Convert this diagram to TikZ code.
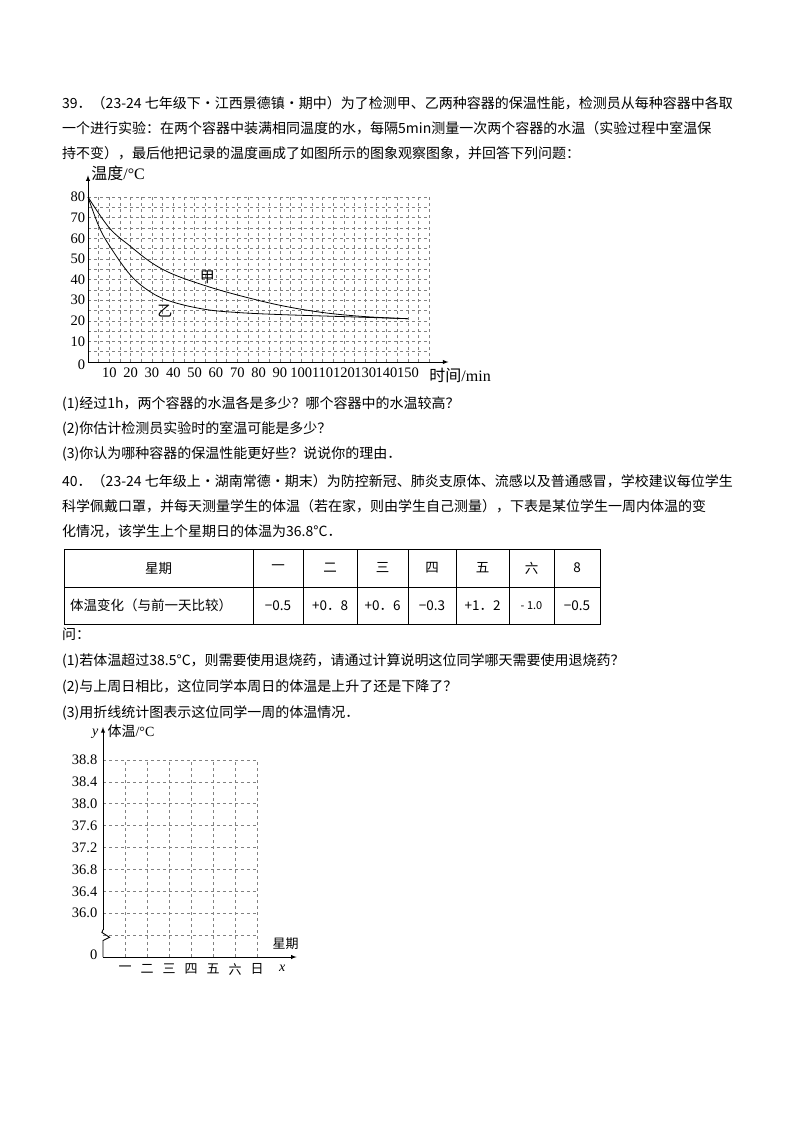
\documentclass[tikz,border=0pt]{standalone}
\usepackage{fontspec}
\setmainfont{Liberation Serif}
\newfontfamily\cjk{Noto Sans CJK SC}
\begin{document}
\begin{tikzpicture}[x=1pt,y=-1pt,
  txt/.style={anchor=base west,inner sep=0pt,font=\cjk\fontsize{14}{16}\selectfont},
  cell/.style={inner sep=0pt,font=\cjk\fontsize{13.5}{16}\selectfont},
  gridl/.style={gray,dashed,line width=0.5pt},
  ax/.style={line width=0.9pt,-latex},
  lab/.style={inner sep=0pt,font=\fontsize{14.5}{15}\selectfont}]
\useasboundingbox[fill=white] (0,0) rectangle (800,1132);
% problem 39 text
\node[txt] (l1) at (62,108) {39．（23-24 七年级下·江西景德镇·期中）为了检测甲、乙两种容器的保温性能，检测员从每种容器中各取};
\node[txt] (l2) at (62,133) {一个进行实验：在两个容器中装满相同温度的水，每隔5min测量一次两个容器的水温（实验过程中室温保};
\node[txt] (l3) at (62,158) {持不变），最后他把记录的温度画成了如图所示的图象观察图象，并回答下列问题：};
% graph 1
\begin{scope}[shift={(88pt,-362pt)},x=2.133pt,y=2.0625pt]
  \foreach \t in {5,10,...,160} \draw[gridl] (\t,0) -- (\t,80);
  \foreach \T in {5,10,...,80} \draw[gridl] (0,\T) -- (160,\T);
  \coordinate (o1) at (0,0);
  \coordinate (ytop1) at (0,90.5);
  \coordinate (xend1) at (169,0);
  \draw[ax] (o1) -- (ytop1);
  \draw[ax] (o1) -- (xend1);
  \foreach \T in {10,20,...,80} \node[lab,anchor=east] (y\T) at (-1.2,\T) {\T};
  \node[lab,anchor=east] (y0) at (-1.2,-1.5) {0};
  \foreach \t in {10,20,...,150} \node[lab,anchor=north] (x\t) at (\t,-2.5) {\t};
  \node[lab,anchor=west,font=\fontsize{16}{16}\selectfont] (ylab1) at (1.5,91.5) {{\cjk 温度}/°C};
  \node[lab,anchor=west,font=\fontsize{16}{16}\selectfont] (xlab1) at (160,-6.5) {{\cjk 时间}/min};
  \draw[line width=0.8pt] plot[smooth,tension=0.6] coordinates {(0,80) (10,65) (20,56) (30,48) (40,42.5) (55,37) (70,32.5) (90,27.5) (110,24) (130,22) (150,21)};
  \draw[line width=0.8pt] plot[smooth,tension=0.6] coordinates {(0,80) (5,66) (10,56.5) (20,42) (30,33.5) (40,29) (55,25.5) (70,24) (90,23) (120,22) (150,21)};
  \node[lab,font=\cjk\fontsize{15}{15}\selectfont] (jia) at (56,41) {甲};
  \node[lab,font=\cjk\fontsize{15}{15}\selectfont] (yi) at (36,24.5) {乙};
\end{scope}
\node[txt] (q1) at (62,408) {(1)经过1h，两个容器的水温各是多少？哪个容器中的水温较高？};
\node[txt] (q2) at (62,433) {(2)你估计检测员实验时的室温可能是多少？};
\node[txt] (q3) at (62,458) {(3)你认为哪种容器的保温性能更好些？说说你的理由．};
% problem 40
\node[txt] (m1) at (62,486) {40．（23-24 七年级上·湖南常德·期末）为防控新冠、肺炎支原体、流感以及普通感冒，学校建议每位学生};
\node[txt] (m2) at (62,511) {科学佩戴口罩，并每天测量学生的体温（若在家，则由学生自己测量），下表是某位学生一周内体温的变};
\node[txt] (m3) at (62,536) {化情况，该学生上个星期日的体温为36.8°C．};
% table
\draw[line width=0.9pt] (64,549) rectangle (600,624);
\draw[line width=0.9pt] (64,587) -- (600,587);
\foreach \c in {253,303,357,408,456,509,554} \draw[line width=0.9pt] (\c,549) -- (\c,624);
\node[cell] (h0) at (158.5,568) {星期};
\node[cell] (h1) at (278,568) {一};
\node[cell] (h2) at (330,568) {二};
\node[cell] (h3) at (382.5,568) {三};
\node[cell] (h4) at (432,568) {四};
\node[cell] (h5) at (482.5,568) {五};
\node[cell] (h6) at (531.5,568) {六};
\node[cell] (h7) at (577,568) {8};
\node[cell,anchor=west] (r0) at (70,605.5) {体温变化（与前一天比较）};
\node[cell] (r1) at (278,605.5) {−0.5};
\node[cell] (r2) at (330,605.5) {+0．8};
\node[cell] (r3) at (382.5,605.5) {+0．6};
\node[cell] (r4) at (432,605.5) {−0.3};
\node[cell] (r5) at (482.5,605.5) {+1．2};
\node[cell] (r6) at (531.5,605.5) {\fontsize{11}{12}\selectfont - 1.0};
\node[cell] (r7) at (577,605.5) {−0.5};
\node[txt] (w0) at (62,639) {问：};
\node[txt] (p1) at (62,665) {(1)若体温超过38.5°C，则需要使用退烧药，请通过计算说明这位同学哪天需要使用退烧药？};
\node[txt] (p2) at (62,691) {(2)与上周日相比，这位同学本周日的体温是上升了还是下降了？};
\node[txt] (p3) at (62,717) {(3)用折线统计图表示这位同学一周的体温情况．};
% graph 2
\begin{scope}[shift={(103pt,-957pt)},x=22pt,y=21.9pt]
  \foreach \i in {1,...,7} \draw[gridl] (\i,0) -- (\i,9);
  \foreach \j in {1,...,9} \draw[gridl] (0,\j) -- (7,\j);
  \coordinate (o2) at (0,0);
  \coordinate (xend2) at (8.8,0);
  \coordinate (ytop2) at (0,10.5);
  \coordinate (b1) at (0,0.75);
  \coordinate (b2) at (0,1.25);
  \draw[line width=0.9pt] (o2) -- (b1) -- (0.3,0.9) -- (-0.05,1.12) -- (b2);
  \draw[ax] (b2) -- (ytop2);
  \draw[ax] (o2) -- (xend2);
  \foreach \j/\v in {2/36.0,3/36.4,4/36.8,5/37.2,6/37.6,7/38.0,8/38.4,9/38.8}
    \node[lab,anchor=east] (t\j) at (-0.25,\j) {\v};
  \node[lab,anchor=east] (z2) at (-0.25,0.1) {0};
  \node[lab,anchor=east,font=\itshape\fontsize{14}{14}\selectfont] (ylab2) at (-0.2,10.2) {y};
  \node[lab,anchor=west,font=\fontsize{14}{14}\selectfont] (ylab2b) at (0.2,10.3) {{\cjk 体温}/°C};
  \node[lab,anchor=west,font=\itshape\fontsize{14}{14}\selectfont] (xlab2) at (8.0,-0.5) {x};
  \node[lab,anchor=west,font=\cjk\fontsize{13}{14}\selectfont] (xlab2b) at (7.7,0.6) {星期};
  \foreach \i/\d in {1/一,2/二,3/三,4/四,5/五,6/六,7/日}
    \node[lab,font=\cjk\fontsize{13}{14}\selectfont] (d\i) at (\i,-0.55) {\d};
\end{scope}
\end{tikzpicture}
\end{document}
